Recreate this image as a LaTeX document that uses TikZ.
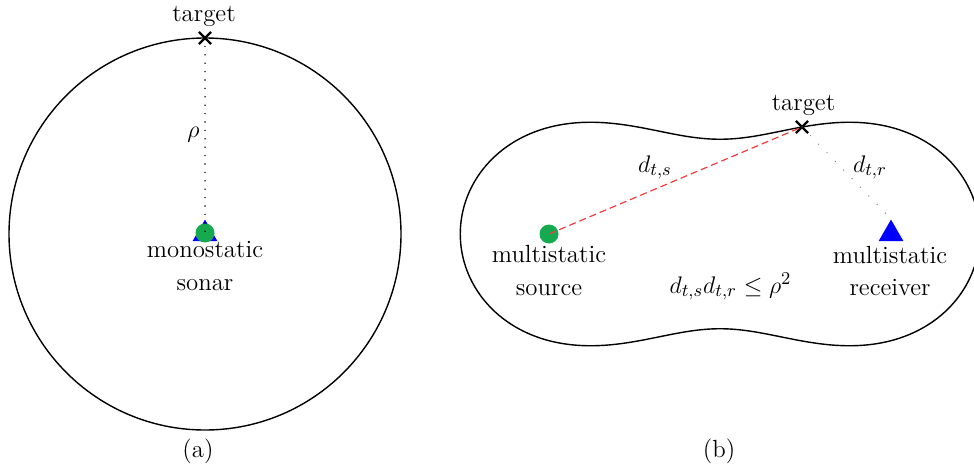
\documentclass[tikz,border=0pt]{standalone}
\usetikzlibrary{shapes.geometric,shapes.misc}
\definecolor{sgreen}{RGB}{22,170,80}
\definecolor{dashred}{RGB}{240,60,60}
\begin{document}
\begin{tikzpicture}[x=50pt,y=-50pt,
  font=\fontsize{12.4}{15}\selectfont,
  lbl/.style={anchor=base,inner sep=0pt},
  tmark/.style={cross out,draw=black,line width=1.1pt,minimum size=5pt,inner sep=0pt},
  srcdot/.style={circle,fill=sgreen,minimum size=9.5pt,inner sep=0pt},
  rcvtri/.style={regular polygon,regular polygon sides=3,fill=blue,minimum size=14.4pt,inner sep=0pt},
  boundary/.style={line width=0.7pt},
  declare function={cr(\t)=sqrt(1.71^2*cos(2*\t)+sqrt(1.71^4*(cos(2*\t))^2+1.955^4-1.71^4));}
]
\useasboundingbox (0,0) rectangle (9.74,4.71);

% (a) monostatic
\draw[boundary] (2.05,2.34) circle[radius=1.96];
\node[tmark] (tgtA) at (2.05,0.38) {};
\node[lbl] (tgtAlbl) at (2.04,0.22) {target};
\node[rcvtri] (sonarTri) at (2.05,2.34) {};
\node[srcdot] (sonarA) at (2.05,2.33) {};
\node[lbl] (monoA) at (2.05,2.57) {monostatic};
\node[lbl] (monoB) at (2.05,2.90) {sonar};
\node[inner sep=0pt] (rhoA) at (1.935,1.35) {$\rho$};
\draw[line width=0.8pt,line cap=round,dash pattern=on 0pt off 4.2pt] (tgtA.center) -- (sonarA.center);
\node[lbl] (capA) at (1.98,4.57) {(a)};

% (b) multistatic
\draw[boundary] plot[domain=0:358.5,samples=240,smooth cycle] ({7.20+cr(\x)*cos(\x)},{2.34+cr(\x)*sin(\x)});
\node[srcdot] (srcB) at (5.49,2.34) {};
\node[rcvtri] (rcvB) at (8.91,2.34) {};
\node[tmark] (tgtB) at (8.02,1.27) {};
\node[lbl] (tgtBlbl) at (8.035,1.10) {target};
\node[lbl] (srcL1) at (5.49,2.62) {multistatic};
\node[lbl] (srcL2) at (5.49,2.95) {source};
\node[lbl] (rcvL1) at (8.90,2.63) {multistatic};
\node[lbl] (rcvL2) at (8.90,2.95) {receiver};
\node[lbl] (dts) at (6.55,1.72) {$d_{t,s}$};
\node[lbl] (dtr) at (8.70,1.72) {$d_{t,r}$};
\node[lbl] (prod) at (7.305,2.93) {$d_{t,s}d_{t,r}\le\rho^2$};
\draw[dashred,line width=0.6pt,dash pattern=on 3.5pt off 2pt] (srcB.center) -- (tgtB.center);
\draw[gray,line width=0.7pt,line cap=round,dash pattern=on 0pt off 6pt] (tgtB.center) -- (rcvB.corner 1);
\node[lbl] (capB) at (7.19,4.57) {(b)};
\end{tikzpicture}
\end{document}
